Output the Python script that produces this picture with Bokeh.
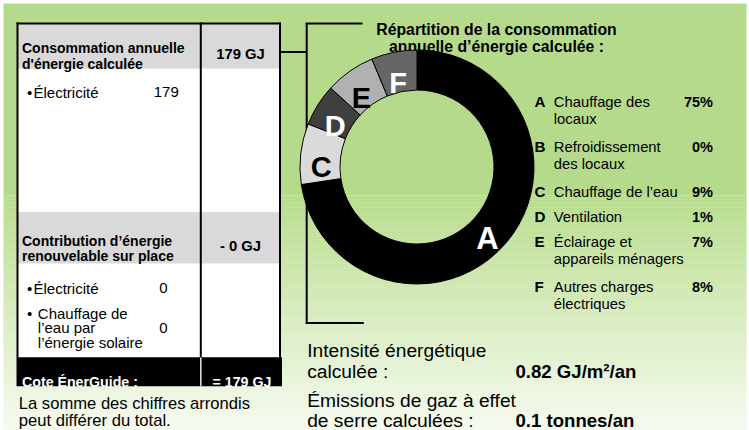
import math
from bokeh.plotting import figure
from bokeh.models import Range1d
from bokeh.core.properties import value
from bokeh.embed import file_html
from bokeh.resources import INLINE

# ---------------- data ----------------
consumption_total_gj = 179
consumption_items = [["Électricité"]]
consumption_values = [179]

renewable_total_gj = 0
renewable_items = [["Électricité"], ["Chauffage de", "l’eau par", "l’énergie solaire"]]
renewable_values = [0, 0]

energuide_rating_gj = 179

end_use_letters = ["A", "B", "C", "D", "E", "F"]
end_use_labels = [["Chauffage des", "locaux"],
                  ["Refroidissement", "des locaux"],
                  ["Chauffage de l’eau"],
                  ["Ventilation"],
                  ["Éclairage et", "appareils ménagers"],
                  ["Autres charges", "électriques"]]
end_use_percent = [75, 0, 9, 1, 7, 8]
# share of the ring as drawn in the picture (small slices are drawn larger)
ring_share = [72.6, 0, 8.4, 5.8, 6.9, 6.3]
ring_colors = ["#000000", "#8c8c8c", "#dadada", "#3f3f3f", "#b1b1b1", "#666666"]
ring_label_colors = ["white", "white", "black", "white", "black", "white"]

energy_intensity = 0.82      # GJ/m²/an
ghg_emissions = 0.1          # tonnes/an

# ---------------- figure ----------------
FONT = "Liberation Sans"
W, H = 749, 430


def Y(v):
    return H - v


p = figure(width=W, height=H, x_range=Range1d(0, W), y_range=Range1d(0, H),
           output_backend="svg", toolbar_location=None, x_axis_type=None, y_axis_type=None,
           min_border=0)
p.grid.visible = False
p.outline_line_color = None
p.background_fill_color = "white"
p.border_fill_color = "white"

# background: green fading to white
top_rgb = (182, 218, 139)
g0, g1 = 195.0, 465.0
BGL, BGR = 3, 746
p.quad(left=[BGL], right=[BGR], top=[Y(3)], bottom=[Y(g0)], fill_color="#%02x%02x%02x" % top_rgb,
       line_color=None)
bl, bt, bb, bc = [], [], [], []
yy = g0
while yy < H + 2:
    t = (yy + 1 - g0) / (g1 - g0)
    c = tuple(int(round(a + (255 - a) * t)) for a in top_rgb)
    bl.append(BGL); bt.append(Y(yy)); bb.append(Y(yy + 2.2)); bc.append("#%02x%02x%02x" % c)
    yy += 2
p.quad(left=bl, right=[BGR] * len(bl), top=bt, bottom=bb, fill_color=bc, line_color=None)


def txt(x, y, s, size, bold=False, color="black", align="left", font=FONT):
    p.text(x=[x], y=[Y(y)], text=[s], text_font=value(font), text_font_size="%.1fpx" % size,
           text_font_style="bold" if bold else "normal", text_color=color,
           text_align=align, text_baseline="alphabetic")


# ---------------- table ----------------
TL, TR, TD = 17, 279.5, 200.3
p.quad(left=[TL, TL, TL, TL], right=[TR] * 4,
       top=[Y(23), Y(68), Y(212), Y(263)], bottom=[Y(68), Y(212), Y(263), Y(357)],
       fill_color=["#d9d9d9", "white", "#d9d9d9", "white"], line_color=None)
p.quad(left=[16], right=[281.5], top=[Y(356.7)], bottom=[Y(385.7)], fill_color="black",
       line_color=None)
p.multi_line(xs=[[TL, TL], [TR, TR], [TD, TD], [16, 280.5]],
             ys=[[Y(22), Y(357)], [Y(22), Y(357)], [Y(22), Y(357)], [Y(23), Y(23)]],
             line_color="black", line_width=2)
p.line(x=[TD, TD], y=[Y(357), Y(385.7)], line_color="#e6e6e6", line_width=1.5)

# connector lines
p.multi_line(xs=[[280, 306.2], [306.2, 306.2], [305.2, 362], [305.2, 363.3]],
             ys=[[Y(51.5), Y(51.5)], [Y(22.5), Y(323)], [Y(23), Y(23)], [Y(322.5), Y(322.5)]],
             line_color="black", line_width=2)

HB = 14.0   # bold header size
VB = 14.8   # bold value size
BR = 15.0   # body regular size

# header 1
txt(21.5, 47, "Consommation annuelle", HB, bold=True)
txt(21.5, 63.5, "d'énergie calculée", HB, bold=True)
txt(240, 53, "%d GJ" % consumption_total_gj, VB, bold=True, align="center")
# consumption items
for lines, v in zip(consumption_items, consumption_values):
    txt(26.5, 91.5, "•", BR)
    txt(33, 91.5, lines[0], BR)
    txt(178.3, 91.5, "%d" % v, BR, align="right")

# header 2
txt(21.5, 240.5, "Contribution d’énergie", HB, bold=True)
txt(21.5, 255, "renouvelable sur place", HB, bold=True)
txt(240, 245, "- %d GJ" % renewable_total_gj, VB, bold=True, align="center")
ren_first = [287.5, 312.5]
ren_x = [33, 37.3]
for lines, v, b, xx in zip(renewable_items, renewable_values, ren_first, ren_x):
    txt(26.5, b, "•", BR)
    for j, s in enumerate(lines):
        txt(xx, b + 14.7 * j, s, BR)
    vb = b + 14.7 * (len(lines) // 2)
    txt(167, vb, "%d" % v, BR, align="right")

# rating band
txt(21.5, 381.5, "Cote ÉnerGuide :", 14.2, bold=True, color="white")
txt(241.5, 381.5, "= %d GJ" % energuide_rating_gj, 14.2, bold=True, color="white", align="center")

txt(18.3, 403, "La somme des chiffres arrondis", 16.6)
txt(18.3, 420, "peut différer du total.", 16.6)

# ---------------- donut ----------------
txt(496, 29, "Répartition de la consommation", 15.8, bold=True, align="center")
txt(496, 46, "annuelle d’énergie calculée :", 15.8, bold=True, align="center")

CX, CY, RO, RI = 416.5, 166.5, 117, 77
starts, ends, cols, mids = [], [], [], []
cum = 0.0
for sh, col in zip(ring_share, ring_colors):
    c0 = cum * 3.6
    cum += sh
    c1 = cum * 3.6
    mids.append((c0 + c1) / 2)
    if sh > 0:
        starts.append(math.radians(90 - c1))
        ends.append(math.radians(90 - c0))
        cols.append(col)
p.annular_wedge(x=[CX] * len(cols), y=[Y(CY)] * len(cols), inner_radius=RI, outer_radius=RO,
                start_angle=starts, end_angle=ends, fill_color=cols, line_color="black",
                line_width=1)

for letter, sh, m, lc in zip(end_use_letters, ring_share, mids, ring_label_colors):
    if sh <= 0:
        continue
    r = 93 if letter == "A" else 96.5
    size = 31 if letter == "A" else 29
    lx = CX + r * math.sin(math.radians(m))
    ly = CY - r * math.cos(math.radians(m))
    txt(lx, ly + 0.36 * size, letter, size, bold=True, color=lc, align="center")

# legend
b = 101.0
for letter, lines, pc in zip(end_use_letters, end_use_labels, end_use_percent):
    txt(534, b, letter, 15.2, bold=True)
    for j, s in enumerate(lines):
        txt(553.3, b + 17 * j, s, 14.8)
    txt(712.5, b, "%d%%" % pc, 14.5, bold=True, align="right")
    b += 25 + 20 * (len(lines) - 1)

# intensity and emissions
txt(306.7, 350, "Intensité énergétique", 19.2)
txt(306.7, 371, "calculée :", 19.2)
txt(515, 370.5, "%.2f GJ/m²/an" % energy_intensity, 18.6, bold=True)
txt(306.7, 399.5, "Émissions de gaz à effet", 19.2)
txt(306.7, 419.5, "de serre calculées :", 19.2)
txt(515, 419.5, "%.1f tonnes/an" % ghg_emissions, 18.6, bold=True)

open("out.html", "w").write(file_html(p, INLINE))
